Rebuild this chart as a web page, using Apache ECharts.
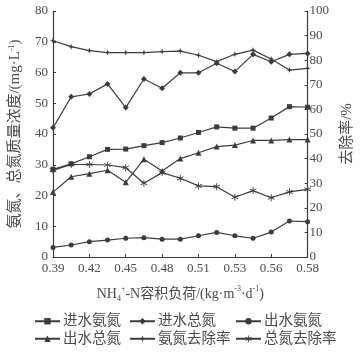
<!DOCTYPE html>
<html><head><meta charset="utf-8">
<script src="https://cdn.jsdelivr.net/npm/echarts@6/dist/echarts.min.js"></script>
<style>html,body{margin:0;padding:0;background:#fff}#c{width:363px;height:356px}</style>
</head><body><div id="c"></div>
<script>
var categories = ['0.39','0.405','0.42','0.435','0.45','0.465','0.48','0.495','0.51','0.52','0.53','0.545','0.56','0.57','0.58'];
var inNH4 = [28.5, 30.3, 32.6, 35.0, 35.1, 36.2, 37.2, 38.7, 40.5, 42.3, 41.9, 41.9, 45.2, 48.9, 48.7];
var inTN = [42.0, 52.1, 53.0, 56.3, 48.6, 57.9, 54.9, 59.9, 59.9, 63.0, 60.3, 65.9, 63.5, 65.9, 66.2];
var outNH4 = [3.1, 3.9, 5.0, 5.5, 6.1, 6.3, 5.8, 5.8, 6.9, 8.0, 6.9, 6.1, 8.1, 11.7, 11.5];
var outTN = [21.1, 26.1, 27.1, 28.2, 24.3, 31.8, 28.0, 32.0, 33.9, 35.9, 36.4, 37.9, 37.9, 38.2, 38.2];
var removalNH4 = [87.9, 85.5, 83.9, 83.1, 83.1, 83.1, 83.5, 83.7, 82.0, 79.4, 82.4, 84.1, 80.5, 76.0, 76.7];
var removalTN = [35.2, 37.6, 37.6, 37.4, 36.3, 30.0, 34.3, 32.0, 28.9, 28.6, 24.3, 27.0, 24.1, 26.5, 27.5];
var leftTicks = [0, 80, 10];
var rightTicks = [0, 100, 10];

var TXT = '#4a4a4a', LN = '#3c3c3c';
var FONT = '"Liberation Serif","Noto Sans CJK SC",serif';
var STAR4 = 'path://M5,0 L6.3,3.7 L10,5 L6.3,6.3 L5,10 L3.7,6.3 L0,5 L3.7,3.7 Z';
var AST = 'path://M4.4,0 L5.6,0 L5.6,10 L4.4,10 Z M0.37,3.02 L9.03,8.02 L9.63,6.98 L0.97,1.98 Z M9.03,1.98 L0.37,6.98 L0.97,8.02 L9.63,3.02 Z';

function mk(name, data, sym, size, yIdx) {
  return {name: name, type: 'line', data: data, yAxisIndex: yIdx, symbol: sym, symbolSize: size,
    lineStyle: {color: LN, width: 1.2}, itemStyle: {color: LN}, animation: false};
}
var chart = echarts.init(document.getElementById('c'));
var legBase = {orient: 'vertical', top: 309, itemGap: 3, itemWidth: 25, itemHeight: 8,
  textStyle: {color: TXT, fontSize: 14.5, fontFamily: FONT, padding: [0,0,0,-2]}};
chart.setOption({
  textStyle: {fontFamily: FONT},
  grid: {left: 49, right: 51, top: 11, bottom: 99},
  legend: [
    Object.assign({left: 29, data: ['进水氨氮','出水总氮']}, legBase),
    Object.assign({left: 124, data: ['进水总氮','氨氮去除率']}, legBase),
    Object.assign({left: 230, data: ['出水氨氮','总氮去除率']}, legBase)
  ],
  xAxis: {type: 'category', data: categories, boundaryGap: false,
    name: 'NH{sub|4}{sup|+}-N容积负荷/(kg·m{sup|-3}·d{sup|-1})', nameLocation: 'middle', nameGap: 28,
    nameTextStyle: {color: TXT, fontSize: 14, fontFamily: FONT, lineHeight: 18,
      rich: {sub: {fontSize: 8, verticalAlign: 'bottom', color: TXT, fontFamily: FONT},
             sup: {fontSize: 8, verticalAlign: 'top', color: TXT, fontFamily: FONT}}},
    axisLine: {lineStyle: {color: LN, width: 1.2}},
    axisTick: {inside: true, length: 3, interval: 1, lineStyle: {color: LN}},
    axisLabel: {interval: 1, color: TXT, fontSize: 13, margin: 5, fontFamily: FONT, hideOverlap: false, showMaxLabel: true}},
  yAxis: [
    {type: 'value', min: leftTicks[0], max: leftTicks[1], interval: leftTicks[2],
     name: '氨氮、总氮质量浓度/(mg·L{sup|-1})', nameLocation: 'middle', nameGap: 30,
     nameTextStyle: {color: TXT, fontSize: 15, fontFamily: FONT,
       rich: {sup: {fontSize: 8, verticalAlign: 'top', color: TXT, fontFamily: FONT}}},
     axisLine: {show: true, lineStyle: {color: LN, width: 1.2}},
     axisTick: {show: true, inside: true, length: 3, lineStyle: {color: LN}},
     axisLabel: {color: TXT, fontSize: 13, margin: 5, fontFamily: FONT},
     splitLine: {show: false}},
    {type: 'value', min: rightTicks[0], max: rightTicks[1], interval: rightTicks[2], position: 'right',
     name: '去除率/%', nameLocation: 'middle', nameGap: 24,
     nameTextStyle: {color: TXT, fontSize: 15, fontFamily: FONT},
     axisLine: {show: true, lineStyle: {color: LN, width: 1.2}},
     axisTick: {show: true, inside: true, length: 3, lineStyle: {color: LN}},
     axisLabel: {color: TXT, fontSize: 13, margin: 2, fontFamily: FONT},
     splitLine: {show: false}}
  ],
  series: [
    mk('进水氨氮', inNH4, 'rect', 5, 0),
    mk('进水总氮', inTN, 'diamond', 6, 0),
    mk('出水氨氮', outNH4, 'circle', 5, 0),
    mk('出水总氮', outTN, 'triangle', 6, 0),
    mk('氨氮去除率', removalNH4, STAR4, 6, 1),
    mk('总氮去除率', removalTN, AST, 7, 1)
  ]
});
</script></body></html>
